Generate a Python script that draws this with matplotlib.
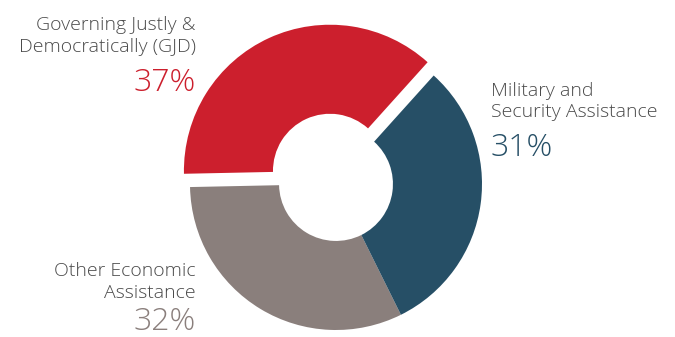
import matplotlib.pyplot as plt

# assistance breakdown
labels = ["Governing Justly &\nDemocratically (GJD)", "Other Economic\nAssistance",
          "Military and\nSecurity Assistance"]
shares = [37, 32, 31]
colors = ["#CC1F2D", "#8A7F7C", "#264F66"]

H = 337
R = 146
explode = [0.1 * R, 0, 0]   # wedge offset is in data units here

fig = plt.figure(figsize=(6.75, 3.37), dpi=100)
ax = fig.add_axes([0, 0, 1, 1])

ax.pie(shares, colors=colors, explode=explode, startangle=48, counterclock=True,
       center=(336, H - 184), radius=R, frame=True,
       wedgeprops=dict(width=R * 0.61, linewidth=0))
ax.set_xlim(0, 675)
ax.set_ylim(0, H)
ax.set_aspect("equal")
ax.axis("off")

font = dict(family=["Open Sans", "DejaVu Sans"], fontweight="light")
text_color = "#4a4a4a"

# (x, y of name, y of percentage, alignment), pixels from the top
spots = [(196, 52, 91, "right"), (196, 298, 330, "right"), (491, 117, 156, "left")]
for lab, val, col, (x, yn, yp, ha) in zip(labels, shares, colors, spots):
    ax.text(x, H - yn, lab, ha=ha, va="baseline", fontsize=14, color=text_color,
            linespacing=1.25, **font)
    ax.text(x, H - yp, f"{val}%", ha=ha, va="baseline", fontsize=23, color=col, **font)

fig.savefig("out.png", dpi=100)
